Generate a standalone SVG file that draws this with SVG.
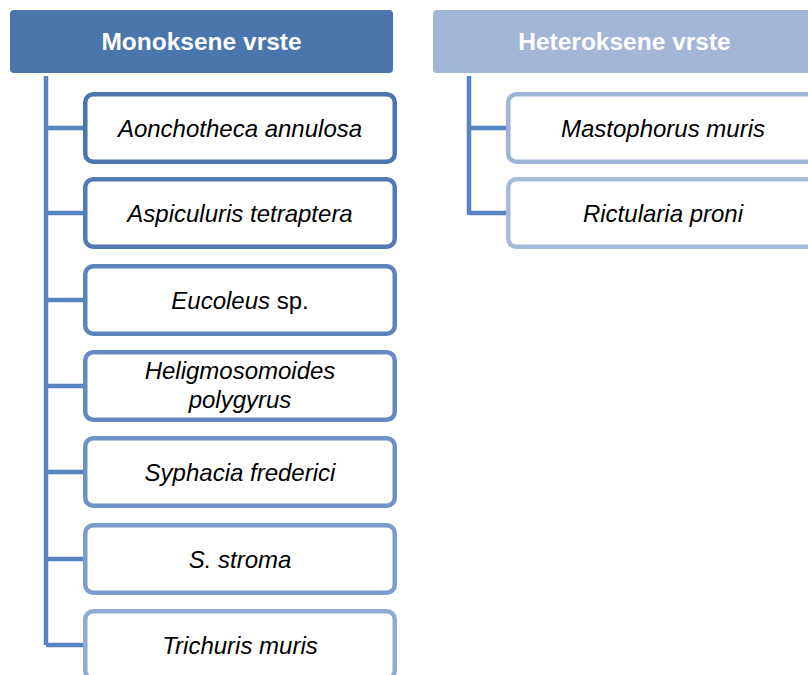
<svg xmlns="http://www.w3.org/2000/svg" width="808" height="675" viewBox="0 0 808 675">
<style>
.hdr{stroke:none}
.box{fill:#ffffff;stroke-width:4.5}
.conn{fill:none;stroke:#5584c1;stroke-width:4.5;stroke-linejoin:round}
.ht{font-family:"Liberation Sans",Arial,sans-serif;font-weight:bold;font-size:24.5px;fill:#ffffff;text-anchor:middle}
.t{font-family:"Liberation Sans",Arial,sans-serif;font-style:italic;font-size:24px;fill:#000000;text-anchor:middle}
.r{font-style:normal}
</style>
<rect width="808" height="675" fill="#ffffff"/>
<g id="connectors">
<path class="conn" d="M46,76 V645 M46,128 H85 M46,213 H85 M46,300 H85 M46,386 H85 M46,472 H85 M46,559 H85 M46,645 H85"/>
<path class="conn" d="M469,76 V213 H508 M469,128 H508"/>
</g>
<g id="h1"><rect class="hdr" x="10" y="10" width="383" height="63" rx="4" fill="#4a76ad"/><text class="ht" x="201.5" y="50">Monoksene vrste</text></g>
<g id="h2"><rect class="hdr" x="433" y="10" width="383" height="63" rx="4" fill="#a2b6d7"/><text class="ht" x="624.5" y="50">Heteroksene vrste</text></g>
<g id="n1"><rect class="box" x="85.25" y="94.25" width="309.5" height="67.5" rx="8" stroke="#4a75ad"/><text class="t" x="240" y="136.5">Aonchotheca annulosa</text></g>
<g id="n2"><rect class="box" x="85.25" y="179.25" width="309.5" height="67.5" rx="8" stroke="#507bb3"/><text class="t" x="240" y="221.5">Aspiculuris tetraptera</text></g>
<g id="n3"><rect class="box" x="85.25" y="266.25" width="309.5" height="67.5" rx="8" stroke="#5a84bc"/><text class="t" x="240" y="308.5">Eucoleus<tspan class="r"> sp.</tspan></text></g>
<g id="n4"><rect class="box" x="85.25" y="352.25" width="309.5" height="67.5" rx="8" stroke="#6589c0"/><text class="t" x="240" y="379">Heligmosomoides</text><text class="t" x="240" y="408">polygyrus</text></g>
<g id="n5"><rect class="box" x="85.25" y="438.25" width="309.5" height="67.5" rx="8" stroke="#7091c5"/><text class="t" x="240" y="480.5">Syphacia frederici</text></g>
<g id="n6"><rect class="box" x="85.25" y="525.25" width="309.5" height="67.5" rx="8" stroke="#7d9bcb"/><text class="t" x="240" y="567.5">S. stroma</text></g>
<g id="n7"><rect class="box" x="85.25" y="611.25" width="309.5" height="67.5" rx="8" stroke="#92abd4"/><text class="t" x="240" y="653.5">Trichuris muris</text></g>
<g id="n8"><rect class="box" x="508.25" y="94.25" width="309.5" height="67.5" rx="8" stroke="#9fb4d8"/><text class="t" x="663" y="136.5">Mastophorus muris</text></g>
<g id="n9"><rect class="box" x="508.25" y="179.25" width="309.5" height="67.5" rx="8" stroke="#a6badb"/><text class="t" x="663" y="221.5">Rictularia proni</text></g>
</svg>
